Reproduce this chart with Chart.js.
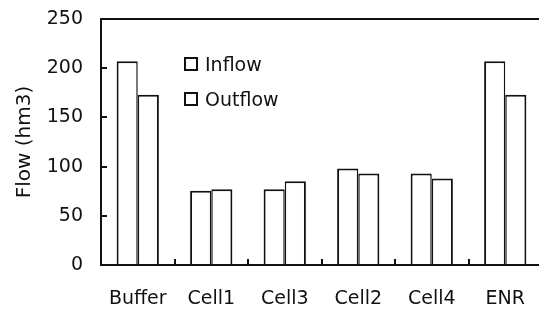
<!DOCTYPE html>
<html lang="en">
<head>
    <meta charset="UTF-8">
    <title>Flow (hm3)</title>
    <script src="https://cdn.jsdelivr.net/npm/chart.js"></script>
    <style>
        body { margin: 0; background: #fff; overflow: hidden; font-family: "DejaVu Sans", sans-serif; }
        .wrap { position: relative; width: 542px; height: 310px; }
        .legend { position: absolute; left: 184px; top: 53px; font-size: 19px; color: #111; }
        .legend-item { display: flex; align-items: center; height: 22px; margin-bottom: 13px; }
        .legend-box { width: 10px; height: 10px; border: 2px solid #111; background: #fff; margin-right: 7px; }
    </style>
</head>
<body>
    <div class="wrap">
        <canvas id="flowChart"></canvas>
        <div class="legend" id="legend"></div>
    </div>

    <script>
        // values
        const categories = ['Buffer', 'Cell1', 'Cell3', 'Cell2', 'Cell4', 'ENR'];
        const seriesNames = ['Inflow', 'Outflow'];
        const inflow = [207, 75.5, 77, 98, 93, 207];
        const outflow = [173, 77, 85, 93, 88, 173];
        const yMin = 0, yMax = 250, yStep = 50;

        const ink = '#111';
        const tickFont = { family: 'DejaVu Sans', size: 19 };

        const chart = new Chart(document.getElementById('flowChart'), {
            type: 'bar',
            data: {
                labels: categories,
                datasets: [
                    {
                        label: seriesNames[0],
                        data: inflow,
                        backgroundColor: '#fff',
                        borderColor: ink,
                        borderWidth: { top: 2, left: 2, right: 1.5, bottom: 0 }
                    },
                    {
                        label: seriesNames[1],
                        data: outflow,
                        backgroundColor: '#fff',
                        borderColor: ink,
                        borderWidth: { top: 2, left: 1.5, right: 2, bottom: 0 }
                    }
                ]
            },
            options: {
                responsive: true,
                maintainAspectRatio: false,
                animation: false,
                layout: { padding: { top: 19, left: 0, right: 0, bottom: 0 } },
                datasets: { bar: { categoryPercentage: 0.575, barPercentage: 1.0 } },
                plugins: {
                    legend: { display: false },
                    tooltip: { enabled: false }
                },
                scales: {
                    x: {
                        position: 'bottom',
                        afterFit: s => { s.height = 45; s.paddingLeft = 0; s.paddingRight = 0; },
                        grid: { display: true, offset: true, drawOnChartArea: false, drawTicks: true, tickLength: -6, color: ink, lineWidth: 2 },
                        border: { display: true, color: ink, width: 2 },
                        ticks: { font: tickFont, color: ink, padding: 29, maxRotation: 0 }
                    },
                    xTop: {
                        type: 'category',
                        position: 'top',
                        afterFit: s => { s.height = 0; s.paddingLeft = 0; s.paddingRight = 0; },
                        grid: { display: false },
                        border: { display: true, color: ink, width: 2 },
                        ticks: { display: false }
                    },
                    y: {
                        min: yMin,
                        max: yMax,
                        afterFit: s => { s.width = 101; s.paddingTop = 0; s.paddingBottom = 0; },
                        grid: { display: true, drawOnChartArea: false, drawTicks: true, tickLength: -6, color: ink, lineWidth: 2 },
                        border: { display: true, color: ink, width: 2 },
                        ticks: { stepSize: yStep, font: tickFont, color: ink, padding: 24 },
                        title: {
                            display: true,
                            text: 'Flow (hm3)',
                            font: { family: 'DejaVu Sans', size: 20 },
                            color: ink,
                            padding: { top: 13, bottom: 0 }
                        }
                    }
                }
            }
        });

        // legend as html, from the dataset labels
        const legend = document.getElementById('legend');
        chart.data.datasets.forEach(ds => {
            const item = document.createElement('div');
            item.className = 'legend-item';
            item.innerHTML = `<span class="legend-box"></span><span>${ds.label}</span>`;
            legend.appendChild(item);
        });
    </script>
</body>
</html>
